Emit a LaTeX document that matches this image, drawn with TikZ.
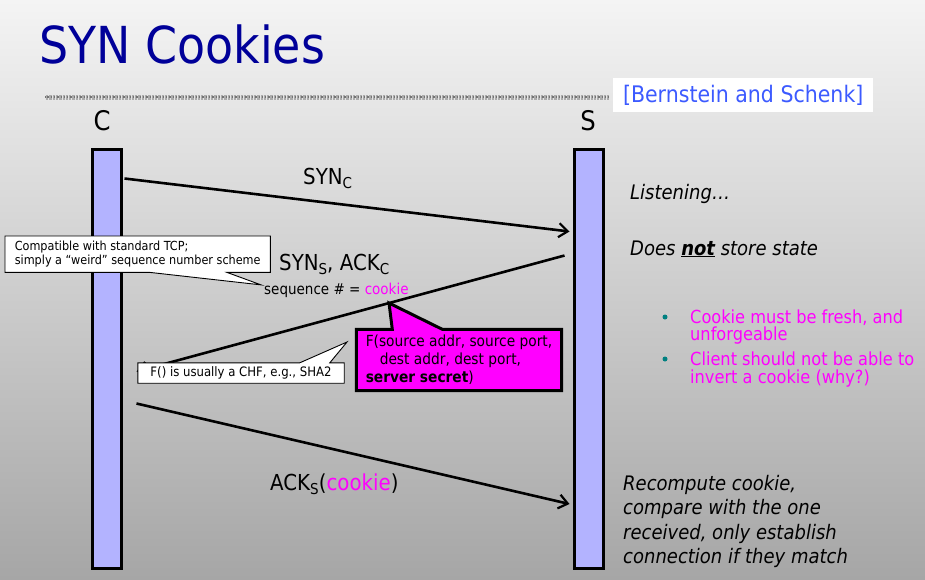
\documentclass[tikz,border=0pt]{standalone}
\usepackage{fontspec}
\setmainfont{DejaVu Sans}[FakeStretch=0.9]
\usetikzlibrary{arrows.meta,calc}
\pgfdeclarelayer{front}
\pgfsetlayers{main,front}

\definecolor{bgtop}{RGB}{244,244,244}
\definecolor{bgbot}{RGB}{166,166,166}
\definecolor{barfill}{RGB}{179,179,255}
\definecolor{titleblue}{RGB}{0,0,153}
\definecolor{refblue}{RGB}{60,90,255}
\definecolor{hot}{RGB}{255,0,255}
\definecolor{dotteal}{RGB}{0,128,128}

\newcommand{\fs}[1]{\fontsize{#1}{#1}\selectfont}
\newcommand{\lowsub}[1]{\raisebox{-4pt}{\fs{15}#1}}

\tikzset{
  lifeline/.style={draw=black, line width=3pt, fill=barfill,
    minimum width=29pt, minimum height=419pt, inner sep=0pt},
  msg/.style={line width=2.6pt,
    -{Straight Barb[length=9pt,width=14pt,line width=2.2pt]}},
  label/.style={anchor=base west, inner sep=0pt, font=\fs{22}},
  notebox/.style={draw=none, inner sep=0pt, align=left},
  noteline/.style={draw=black, line width=0.9pt, fill=white, line join=miter},
  hotline/.style={draw=black, line width=3pt, fill=hot, line join=miter},
  sidetext/.style={anchor=north west, inner sep=0pt, align=left},
  remark/.style={anchor=base west, inner sep=0pt, font=\fs{20}\itshape},
  tealdot/.style={circle, fill=dotteal, minimum size=5pt, inner sep=0pt},
}

\begin{document}
\begin{tikzpicture}[x=1pt,y=-1pt]
\path[use as bounding box] (0,0) rectangle (925,579);

% slide background
\fill[top color=bgtop, bottom color=bgbot] (0,0) rectangle (925,579);

% title and textured rule
\node[anchor=base west, inner sep=0pt, text=titleblue, font=\fs{51}] (title) at (39,63) {SYN Cookies};
\coordinate (ruleL) at (45,97);
\coordinate (ruleR) at (609,97);
\draw[gray!65, line width=5pt] (ruleL) -- (ruleR);
\draw[gray!20, line width=5pt, dash pattern=on 1pt off 2.3pt] (ruleL) -- (ruleR);
\draw[gray!90!black, line width=1.6pt, dash pattern=on 1.3pt off 2pt, dash phase=1pt] (ruleL) -- (ruleR);

% reference tag
\node[fill=white, minimum width=260pt, minimum height=34pt, inner sep=0pt,
      anchor=north west, text=refblue, font=\fs{22.8}] (ref) at (613,78)
      {[Bernstein and Schenk]};

% parties and lifelines
\node[anchor=base, inner sep=0pt, font=\fs{27}] (clabel) at (102,130) {C};
\node[anchor=base, inner sep=0pt, font=\fs{27}] (slabel) at (588,130) {S};
\node[lifeline] (cbar) at (107,359) {};
\node[lifeline] (sbar) at (589,359) {};

% message end points
\coordinate (synC-from) at ($(cbar.north east)+(1.5,30.5)$);
\coordinate (synC-to)   at ($(sbar.north west)+(-3.5,83.5)$);
\coordinate (synS-from) at ($(sbar.north west)+(-8.5,107.5)$);
\coordinate (synS-to)   at ($(cbar.north east)+(13.5,223.5)$);
\coordinate (ackS-from) at ($(cbar.north east)+(13.5,255.5)$);
\coordinate (ackS-to)   at ($(sbar.north west)+(-3.5,356)$);

% messages
\draw[msg] (synC-from) -- (synC-to);
\draw[msg] (synS-from) -- (synS-to)
  coordinate[pos=0.41] (fpoint);
\draw[msg] (ackS-from) -- (ackS-to);

% message labels
\node[label] (synClabel) at (303,184) {SYN\lowsub{C}};
\node[label] (synSlabel) at (279,270) {SYN\lowsub{S}, ACK\lowsub{C}};
\node[label, font=\fs{15}] (seqlabel) at (264,294) {sequence \# = \textcolor{hot}{cookie}};
\node[label] (acklabel) at (270,490) {ACK\lowsub{S}(\textcolor{hot}{cookie})};

% callout: compatibility note
\begin{pgfonlayer}{front}
\node[notebox, minimum width=265pt, minimum height=36pt, anchor=north west,
      font=\fs{12.5}] (note1) at (5,236)
  {Compatible with standard TCP;\\[1pt]simply a “weird” sequence number scheme};
\end{pgfonlayer}
\coordinate (tip1) at ($(seqlabel.west)+(-3,-5)$);
\draw[noteline] (note1.north west) -- (note1.north east) -- (note1.south east)
  -- ($(note1.south west)+(222,0)$) -- (tip1) -- ($(note1.south west)+(145,0)$)
  -- (note1.south west) -- cycle;

% callout: hash function note
\begin{pgfonlayer}{front}
\node[notebox, minimum width=206pt, minimum height=20pt, font=\fs{13}] (note2)
  at (241,373) {F() is usually a CHF, e.g., SHA2};
\end{pgfonlayer}
\coordinate (tip2) at (347,342);
\draw[noteline] (note2.north west) -- ($(note2.north west)+(162,0)$) -- (tip2)
  -- ($(note2.north west)+(192,0)$) -- (note2.north east) -- (note2.south east)
  -- (note2.south west) -- cycle;

% callout: cookie formula
\begin{pgfonlayer}{front}
\node[notebox, minimum width=205pt, minimum height=61pt,
      font=\fontsize{15.3}{18}\selectfont] (fbox) at (459,360)
  {F(source addr, source port,\\\hspace*{14pt}dest addr, dest port,\\\textbf{server secret})};
\end{pgfonlayer}
\draw[hotline] (fbox.north west) -- ($(fbox.north west)+(36,0)$) -- (fpoint)
  -- ($(fbox.north west)+(86,0)$) -- (fbox.north east) -- (fbox.south east)
  -- (fbox.south west) -- cycle;

% server side remarks
\node[remark] (listen) at (630,199) {Listening…};
\node[remark] (nostate) at (630,255) {Does \underline{\textbf{not}} store state};

\node[tealdot] (dot1) at (665,317) {};
\node[tealdot] (dot2) at (665,359) {};
\node[sidetext, text=hot, font=\fontsize{18}{17}\selectfont] (b1) at (690,310)
  {Cookie must be fresh, and\\unforgeable};
\node[sidetext, text=hot, font=\fontsize{18}{18}\selectfont] (b2) at (690,352)
  {Client should not be able to\\invert a cookie (why?)};

\node[sidetext, font=\fontsize{20}{24.5}\selectfont\itshape] (recompute) at (623,475)
  {Recompute cookie,\\compare with the one\\received, only establish\\connection if they match};
\end{tikzpicture}
\end{document}
